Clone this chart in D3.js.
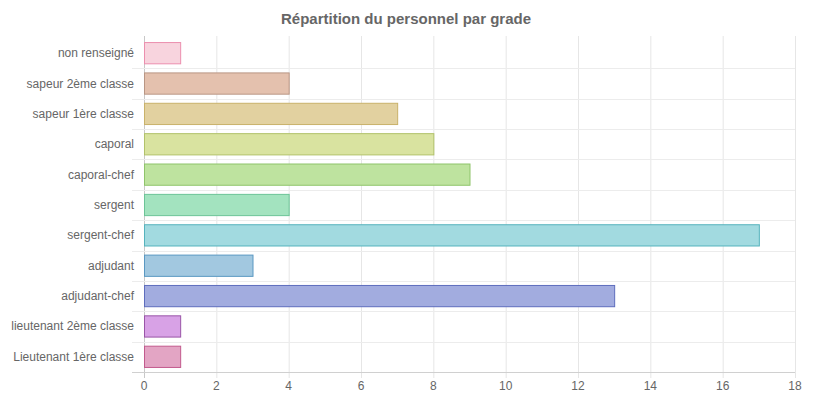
<!DOCTYPE html>
<html><head><meta charset="utf-8">
<script src="https://cdn.jsdelivr.net/npm/d3@7"></script>
<style>body{margin:0;background:#fff}svg{display:block;font-family:"Liberation Sans",Arial,Helvetica,sans-serif}</style>
</head><body><svg id="c" width="819" height="401"></svg>
<script>
const title = "Répartition du personnel par grade";
const categories = ["non renseigné","sapeur 2ème classe","sapeur 1ère classe","caporal","caporal-chef","sergent","sergent-chef","adjudant","adjudant-chef","lieutenant 2ème classe","Lieutenant 1ère classe"];
const values = [1,4,7,8,9,4,17,3,13,1,1];
const fills = ["#f8d4de","#e4c1ae","#e2d1a0","#d9e3a0","#bee39f","#a3e3bf","#a2dae0","#a2c8e0","#a2acdf","#d8a2e6","#e3a5c4"];
const strokes = ["#ec8fae","#b99684","#c9b26a","#b2c26a","#8fc46a","#6cc497","#55b3bd","#5a98c2","#5e6dbd","#9a55a8","#c25a8d"];
const xTicks = [0,2,4,6,8,10,12,14,16,18];

const svg = d3.select("#c");
const m = {left:144, right:795, top:38, bottom:372};
const x = d3.scaleLinear().domain([0,18]).range([m.left, m.right]);
const y = d3.scaleBand().domain(categories).range([m.top, m.bottom]).paddingInner(0).paddingOuter(0);
const barH = y.bandwidth()*0.7;

const grid = svg.append("g");
// vertical grid
grid.selectAll("line.v").data(xTicks).join("line")
  .attr("x1", d=>x(d)+0.5).attr("x2", d=>x(d)+0.5)
  .attr("y1", m.top-2).attr("y2", m.bottom+6)
  .attr("stroke", d=> d===0 ? "#c8c8c8" : "#e6e6e6").attr("stroke-width",1);
// horizontal grid at inner band boundaries and bottom
const bounds = categories.slice(1).map(c=>y(c)).concat([m.bottom]);
grid.selectAll("line.h").data(bounds).join("line")
  .attr("x1", m.left-12).attr("x2", m.right)
  .attr("y1", d=>Math.round(d)+0.5).attr("y2", d=>Math.round(d)+0.5)
  .attr("stroke", (d,i)=> i===bounds.length-1 ? "#d0d0d0" : "#ececec").attr("stroke-width",1);

// bars
svg.append("g").selectAll("rect").data(categories).join("rect")
  .attr("x", x(0)+0.5)
  .attr("y", (d)=> y(d)+(y.bandwidth()-barH)/2)
  .attr("width", (d,i)=> x(values[i])-x(0))
  .attr("height", barH)
  .attr("fill", (d,i)=>fills[i])
  .attr("stroke", (d,i)=>strokes[i]).attr("stroke-width",1);

// y labels
svg.append("g").selectAll("text").data(categories).join("text")
  .attr("x", 134).attr("y", d=>y(d)+y.bandwidth()/2)
  .attr("text-anchor","end").attr("dominant-baseline","central")
  .attr("font-size",12).attr("fill","#666").text(d=>d);

// x labels
svg.append("g").selectAll("text").data(xTicks).join("text")
  .attr("x", d=>x(d)).attr("y", 386)
  .attr("text-anchor","middle").attr("dominant-baseline","central")
  .attr("font-size",12).attr("fill","#666").text(d=>d);

// title
svg.append("text").attr("x", 406).attr("y", 18)
  .attr("text-anchor","middle").attr("dominant-baseline","central")
  .attr("font-size",15).attr("font-weight","bold").attr("fill","#666").text(title);
</script></body></html>
